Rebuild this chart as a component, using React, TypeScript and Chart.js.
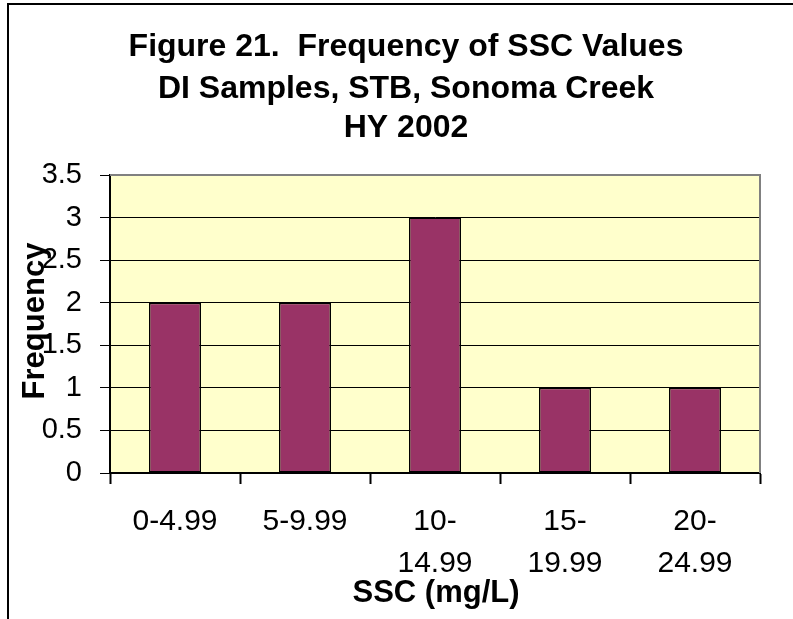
import React, { useEffect, useRef } from "react";
import { Chart, registerables } from "chart.js";

Chart.register(...registerables);

const titleLines = [
  "Figure 21.  Frequency of SSC Values",
  "DI Samples, STB, Sonoma Creek",
  "HY 2002",
];
const categories: string[][] = [
  ["0-4.99"],
  ["5-9.99"],
  ["10-", "14.99"],
  ["15-", "19.99"],
  ["20-", "24.99"],
];
const frequencies = [2, 2, 3, 1, 1];
const yTickLabels = ["0", "0.5", "1", "1.5", "2", "2.5", "3", "3.5"];
const xAxisTitle = "SSC (mg/L)";
const yAxisTitle = "Frequency";

const FONT = "'Liberation Sans', Arial, sans-serif";

const decorPlugin = {
  id: "decor",
  beforeDraw(chart: any) {
    const { ctx, chartArea: a } = chart;
    ctx.save();
    ctx.fillStyle = "#FFFFCC";
    ctx.fillRect(a.left, a.top, a.right - a.left, a.bottom - a.top);
    // outer frame (left and top)
    ctx.fillStyle = "#000";
    ctx.fillRect(7, 3, 2, chart.height);
    ctx.fillRect(7, 3, chart.width, 2);
    ctx.restore();
  },
  afterDatasetsDraw(chart: any) {
    const { ctx, chartArea: a } = chart;
    ctx.save();
    ctx.strokeStyle = "#808080";
    ctx.lineWidth = 2;
    ctx.beginPath();
    ctx.moveTo(a.left, a.top);
    ctx.lineTo(a.right, a.top);
    ctx.lineTo(a.right, a.bottom);
    ctx.stroke();
    ctx.restore();
  },
  afterDraw(chart: any) {
    const { ctx } = chart;
    ctx.save();
    ctx.fillStyle = "#000";
    ctx.textAlign = "center";
    ctx.textBaseline = "alphabetic";
    ctx.font = `bold 32px ${FONT}`;
    const baselines = [56, 98, 137];
    titleLines.forEach((t, i) => ctx.fillText(t, 406, baselines[i]));
    // x axis title
    ctx.font = `bold 31px ${FONT}`;
    ctx.fillText(xAxisTitle, 436, 602);
    // y axis title (rotated)
    ctx.translate(44, 321);
    ctx.rotate(-Math.PI / 2);
    ctx.fillText(yAxisTitle, 0, 0);
    ctx.restore();
  },
};

export default function App() {
  const ref = useRef<HTMLCanvasElement>(null);
  useEffect(() => {
    if (!ref.current) return;
    const chart = new Chart(ref.current, {
      type: "bar",
      data: {
        labels: categories,
        datasets: [
          {
            data: frequencies,
            backgroundColor: "#993366",
            borderColor: "#000",
            borderWidth: 1.5,
            borderSkipped: false,
            barPercentage: 0.4,
            categoryPercentage: 1,
          },
        ],
      },
      options: {
        animation: false,
        responsive: false,
        layout: { padding: { left: 0, top: 175, right: 33, bottom: 0 } },
        plugins: {
          legend: { display: false },
          title: { display: false },
          tooltip: { enabled: false },
        },
        scales: {
          x: {
            offset: true,
            afterFit: (s: any) => {
              s.height = 146;
            },
            grid: {
              offset: true,
              drawOnChartArea: false,
              drawTicks: true,
              tickLength: 11,
              tickWidth: 2,
              tickColor: "#000",
            },
            border: { display: true, color: "#000", width: 2 },
            ticks: {
              color: "#000",
              padding: 16,
              maxRotation: 0,
              autoSkip: false,
              font: { family: FONT, size: 30, lineHeight: 1.42 },
            },
          },
          y: {
            min: 0,
            max: 3.5,
            afterFit: (s: any) => {
              s.width = 110;
            },
            grid: {
              color: (c: any) =>
                c.tick && c.tick.value === 3.5 ? "rgba(0,0,0,0)" : "#000",
              lineWidth: 1,
              drawTicks: true,
              tickLength: 10,
              tickColor: "#000",
              tickWidth: 1,
            },
            border: { display: true, color: "#000", width: 2 },
            ticks: {
              stepSize: 0.5,
              color: "#000",
              padding: 18,
              font: { family: FONT, size: 29 },
              callback: (_v: any, i: number) => yTickLabels[i],
            },
          },
        },
      },
      plugins: [decorPlugin],
    });
    return () => chart.destroy();
  }, []);
  return (
    <div
      style={{
        position: "fixed",
        left: 0,
        top: 0,
        width: 793,
        height: 619,
        overflow: "hidden",
        background: "#fff",
      }}
    >
      <canvas ref={ref} width={793} height={619} />
    </div>
  );
}
